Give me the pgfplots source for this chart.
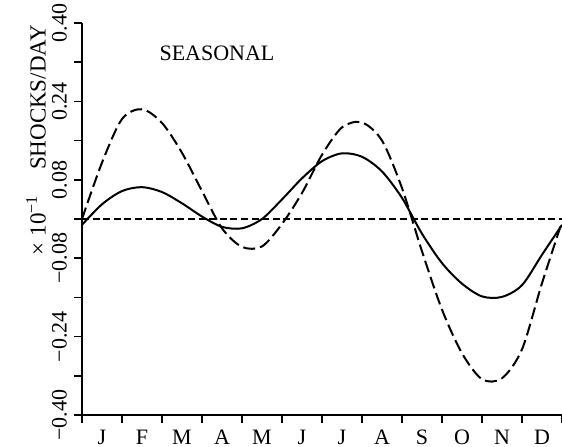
\documentclass[border=0pt]{standalone}
\usepackage{fontspec}
\setmainfont{Liberation Serif}
\usepackage{pgfplots}
\pgfplotsset{compat=1.18}

% Seasonal component of the shock rate, months on the x axis (0 = start of January)
\pgfplotstableread{
x     y
0.0  -0.012
0.5   0.030
1.0   0.057
1.5   0.065
2.0   0.055
2.5   0.032
3.0   0.005
3.5  -0.016
4.0  -0.019
4.5   0.000
5.0   0.040
5.5   0.083
6.0   0.118
6.5   0.134
7.0   0.127
7.5   0.097
8.0   0.043
8.5  -0.030
9.0  -0.090
9.5  -0.132
10.0 -0.158
10.5 -0.159
11.0 -0.135
11.5 -0.073
12.0 -0.012
}\solidcurve

\pgfplotstableread{
x     y
0.0   0.000
0.5   0.115
1.0   0.204
1.5   0.224
2.0   0.196
2.5   0.135
3.0   0.057
3.5  -0.019
4.0  -0.057
4.5  -0.056
5.0  -0.010
5.5   0.053
6.0   0.131
6.5   0.187
7.0   0.197
7.5   0.160
8.0   0.063
8.5  -0.066
9.0  -0.185
9.5  -0.274
10.0 -0.327
10.5 -0.325
11.0 -0.266
11.5 -0.131
12.0 -0.006
}\dashedcurve

\begin{document}
\begin{tikzpicture}
\begin{axis}[
  name=ax,
  scale only axis, width=240pt, height=196pt,
  xmin=0, xmax=12, ymin=-0.4, ymax=0.4,
  axis lines*=left,
  axis line style={line width=0.9pt},
  tick align=outside,
  major tick length=4pt,
  minor tick length=4pt,
  tick style={line width=0.8pt, black},
  xtick={0,...,12},
  xticklabels={J,F,M,A,M,J,J,A,S,O,N,D},
  x tick label as interval,
  ytick={-0.4,-0.24,-0.08,0.08,0.24,0.4},
  yticklabels={−0.40,−0.24,−0.08,0.08,0.24,0.40},
  minor ytick={-0.32,-0.16,0,0.16,0.32},
  yticklabel style={rotate=90, anchor=south, font=\fontsize{11}{13}\selectfont},
  xticklabel style={font=\fontsize{11}{13}\selectfont},
  clip=false,
]
\addplot[black, line width=0.9pt, dash pattern=on 3.5pt off 1.8pt] coordinates {(0,0) (12,0)};
\addplot[black, line width=1pt, smooth] table[x=x, y=y] {\solidcurve};
\addplot[black, line width=1pt, smooth, dash pattern=on 6pt off 2.5pt] table[x=x, y=y] {\dashedcurve};
\node[font=\fontsize{11}{13}\selectfont] at (axis cs:3.375,0.339) {SEASONAL};
\node[rotate=90, font=\fontsize{11.5}{13}\selectfont] at ([xshift=-23pt]axis cs:0,0.161)
  {× 10\textsuperscript{−1}\hspace{1.1em}SHOCKS/DAY};
\end{axis}
\pgfresetboundingbox
\path ([xshift=-41pt,yshift=-16pt]ax.south west) rectangle ([yshift=11.5pt]ax.north east);
\end{tikzpicture}
\end{document}
